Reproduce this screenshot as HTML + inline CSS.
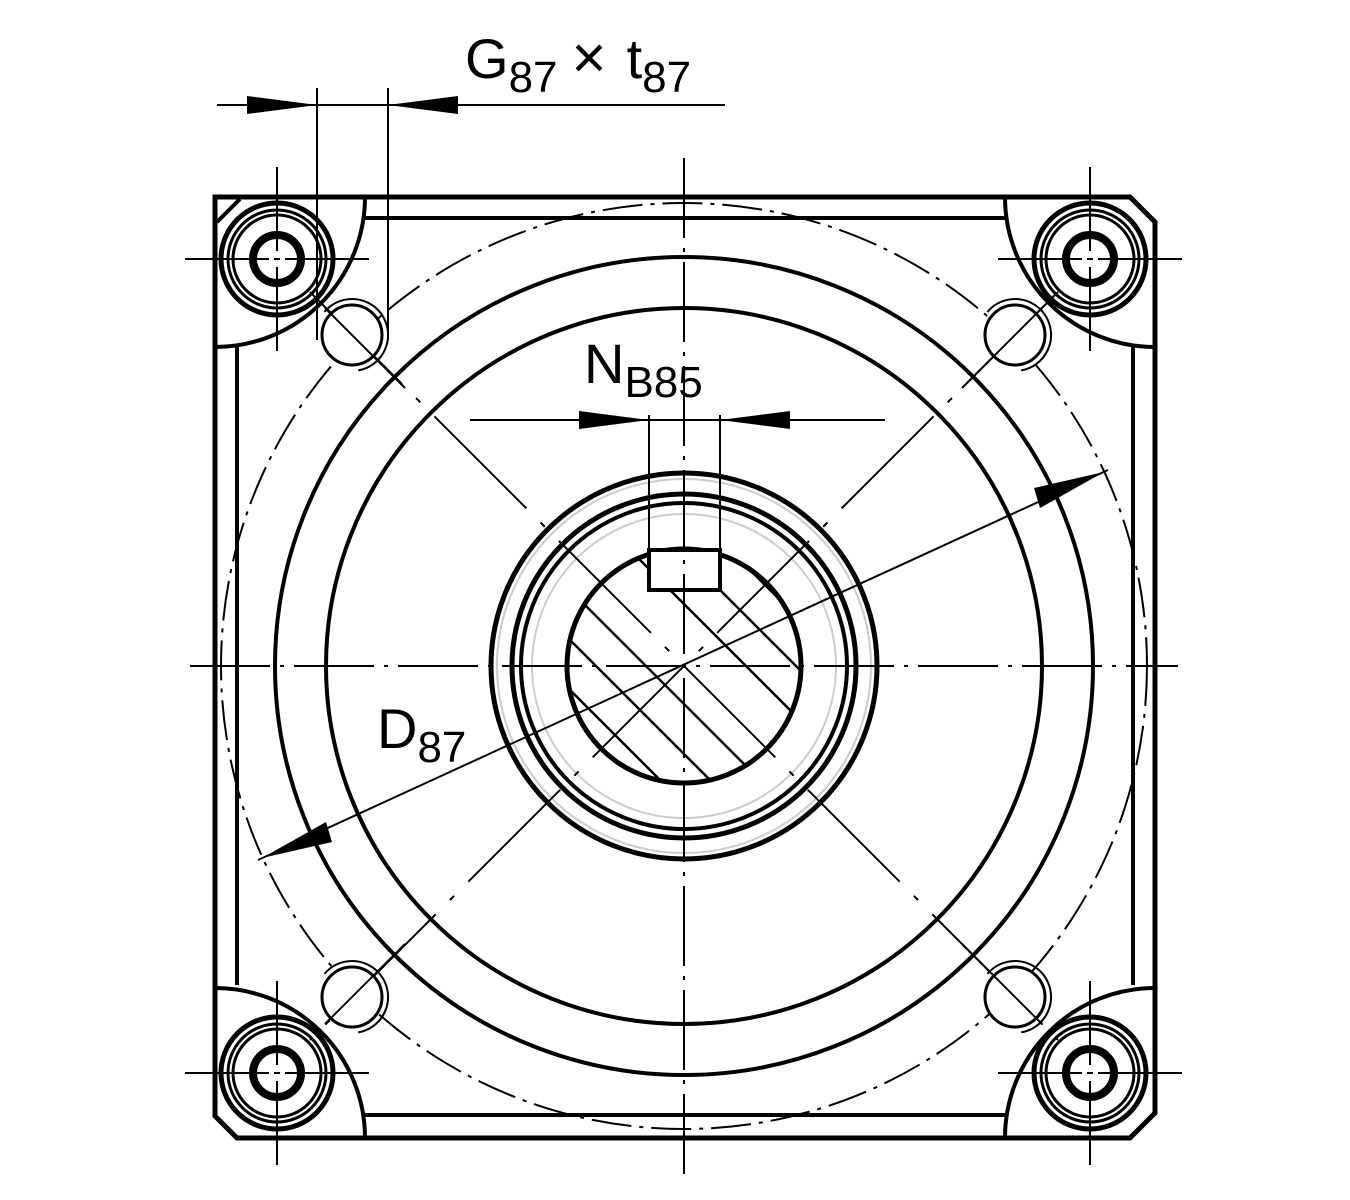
<!DOCTYPE html>
<html><head><style>html,body{margin:0;padding:0;background:#fff}svg{display:block}</style></head><body>
<svg width="1350" height="1200" viewBox="0 0 1350 1200" xmlns="http://www.w3.org/2000/svg">
<defs>
<clipPath id="sq"><rect x="215" y="197" width="940" height="941"/></clipPath>
<clipPath id="shaft"><circle cx="684" cy="666" r="117"/></clipPath>
<g id="bolt">
<circle r="56" fill="none" stroke="#000" stroke-width="5"/>
<circle r="49" fill="none" stroke="#000" stroke-width="3"/>
<circle r="44" fill="none" stroke="#000" stroke-width="3"/>
<circle r="24" fill="none" stroke="#000" stroke-width="8"/>
<line x1="-92" y1="0" x2="-8" y2="0" stroke="#000" stroke-width="2"/>
<line x1="8" y1="0" x2="92" y2="0" stroke="#000" stroke-width="2"/>
<line x1="-3" y1="0" x2="3" y2="0" stroke="#000" stroke-width="2"/>
<line x1="0" y1="-92" x2="0" y2="-8" stroke="#000" stroke-width="2"/>
<line x1="0" y1="8" x2="0" y2="92" stroke="#000" stroke-width="2"/>
</g>
</defs>
<g fill="none" stroke="#000">
<path d="M215 197 H1130 L1155 222 V1113 L1130 1138 H237 L215 1116 Z" stroke-width="5"/>
<path d="M217 222 L240 199" stroke-width="4"/>
<line x1="365" y1="218" x2="1005" y2="218" stroke-width="4"/>
<line x1="237" y1="347" x2="237" y2="985" stroke-width="4"/>
<line x1="1133" y1="347" x2="1133" y2="985" stroke-width="4"/>
<line x1="365" y1="1115" x2="1005" y2="1115" stroke-width="4"/>
<path d="M365 197 A150 150 0 0 1 215 347" stroke-width="4"/>
<path d="M1005 197 A150 150 0 0 0 1155 347" stroke-width="4"/>
<path d="M365 1138 A150 150 0 0 0 215 988" stroke-width="4"/>
<path d="M1005 1138 A150 150 0 0 1 1155 988" stroke-width="4"/>
<circle cx="684" cy="666" r="409" stroke-width="4"/>
<circle cx="684" cy="666" r="358" stroke-width="4"/>
<circle cx="684" cy="666" r="463" stroke-width="2" stroke-dasharray="40 8 4 8" clip-path="url(#sq)"/>
<circle cx="684" cy="666" r="193" stroke-width="5"/>
<circle cx="684" cy="666" r="187" stroke-width="2" stroke="#ccc"/>
<circle cx="684" cy="666" r="172" stroke-width="5"/>
<circle cx="684" cy="666" r="163" stroke-width="4"/>
<circle cx="684" cy="666" r="152" stroke-width="2" stroke="#ccc"/>
<circle cx="684" cy="666" r="117" stroke-width="5"/>
<g clip-path="url(#shaft)" stroke-width="2.5">
<line x1="480" y1="450" x2="900" y2="870" transform="translate(-150,0)"/>
<line x1="480" y1="450" x2="900" y2="870" transform="translate(-100,0)"/>
<line x1="480" y1="450" x2="900" y2="870" transform="translate(-50,0)"/>
<line x1="480" y1="450" x2="900" y2="870" transform="translate(50,0)"/>
<line x1="480" y1="450" x2="900" y2="870" transform="translate(100,0)"/>
<line x1="480" y1="450" x2="900" y2="870" transform="translate(150,0)"/>
</g>
<rect x="649" y="550" width="71" height="40" fill="#fff" stroke-width="4"/>
<line x1="649" y1="415" x2="649" y2="550" stroke-width="2"/>
<line x1="720" y1="415" x2="720" y2="550" stroke-width="2"/>
<line x1="190" y1="666" x2="1178" y2="666" stroke-width="2" stroke-dasharray="80 10 4 10"/>
<line x1="684" y1="158" x2="684" y2="1175" stroke-width="2" stroke-dasharray="80 10 4 10"/>
<line x1="310" y1="292" x2="1058" y2="1040" stroke-width="2" stroke-dasharray="130 20 6 20"/>
<line x1="1058" y1="292" x2="310" y2="1040" stroke-width="2" stroke-dasharray="130 20 6 20"/>
<line x1="258" y1="860" x2="1108" y2="470" stroke-width="2"/>
<polygon points="262,858 326,822 332,842" fill="#000" stroke="none"/>
<polygon points="1104,472 1040,508 1034,488" fill="#000" stroke="none"/>
<line x1="217" y1="105" x2="725" y2="105" stroke-width="2"/>
<line x1="317" y1="88" x2="317" y2="340" stroke-width="2"/>
<line x1="388" y1="88" x2="388" y2="340" stroke-width="2"/>
<polygon points="317,105 247,96 247,114" fill="#000" stroke="none"/>
<polygon points="388,105 458,96 458,114" fill="#000" stroke="none"/>
<line x1="470" y1="420" x2="885" y2="420" stroke-width="2"/>
<polygon points="649,420 579,411 579,429" fill="#000" stroke="none"/>
<polygon points="720,420 790,411 790,429" fill="#000" stroke="none"/>
</g>
<use href="#bolt" x="277" y="259"/>
<use href="#bolt" x="1090" y="259"/>
<use href="#bolt" x="277" y="1073"/>
<use href="#bolt" x="1090" y="1073"/>
<g fill="#fff" stroke="#000">
<circle cx="352" cy="335" r="30" stroke-width="3"/>
<circle cx="1015" cy="335" r="30" stroke-width="3"/>
<circle cx="352" cy="997" r="30" stroke-width="3"/>
<circle cx="1015" cy="997" r="30" stroke-width="3"/>
</g>
<g fill="none" stroke="#000" stroke-width="2">
<path d="M339.7 301.2 A36 36 0 1 1 339.7 368.8" transform="rotate(-30 352 335)"/>
<path d="M1002.7 301.2 A36 36 0 1 1 1002.7 368.8" transform="rotate(-30 1015 335)"/>
<path d="M339.7 963.2 A36 36 0 1 1 339.7 1030.8" transform="rotate(-30 352 997)"/>
<path d="M1002.7 963.2 A36 36 0 1 1 1002.7 1030.8" transform="rotate(-30 1015 997)"/>
<line x1="325" y1="308" x2="405" y2="388"/>
<line x1="1042" y1="308" x2="962" y2="388"/>
<line x1="325" y1="1024" x2="405" y2="944"/>
<line x1="1042" y1="1024" x2="962" y2="944"/>
</g>
<g font-family="Liberation Sans, sans-serif" fill="#000">
<text x="465" y="78" font-size="56">G<tspan font-size="44" dy="14">87</tspan><tspan dy="-14" dx="14" font-size="60">×</tspan><tspan dx="20">t</tspan><tspan font-size="44" dy="14">87</tspan></text>
<text x="584" y="383" font-size="56">N<tspan font-size="44" dy="14">B85</tspan></text>
<text x="377" y="748" font-size="56">D<tspan font-size="44" dy="14">87</tspan></text>
</g>
</svg>
</body></html>
